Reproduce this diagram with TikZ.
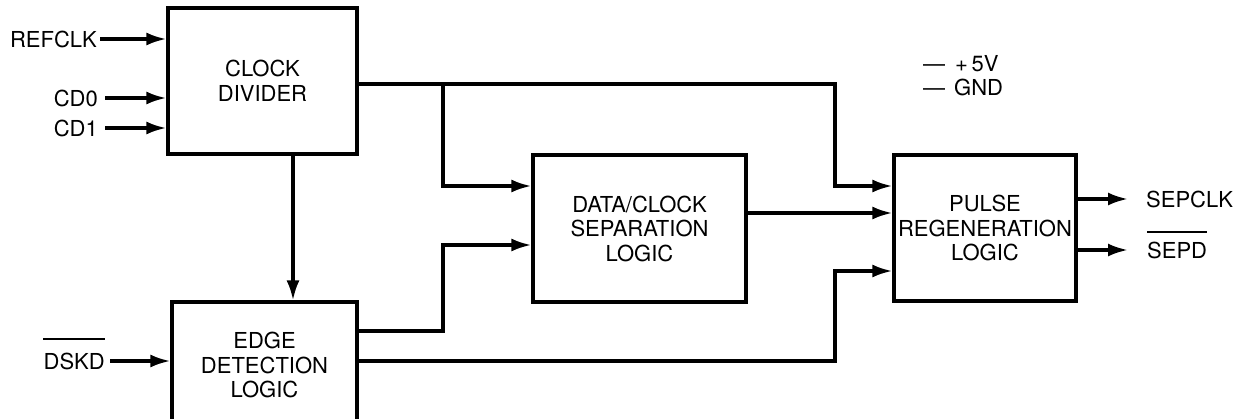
\documentclass[tikz,border=0pt]{standalone}
\usepackage{fontspec}
\setmainfont{TeX Gyre Heros}
\usetikzlibrary{arrows.meta,calc}
\begin{document}
\begin{tikzpicture}[x=1pt,y=-1pt,
  font=\fontsize{22}{24.5}\selectfont,
  blk/.style={draw, line width=3.2pt, inner sep=0pt, align=center},
  sig/.style={line width=3.2pt},
  arr/.style={sig, -{Latex[length=20pt,width=13pt]}},
  lbl/.style={inner sep=0pt},
  bar/.style={line width=2pt}]
\useasboundingbox (0,0) rectangle (1240,418);
\clip (0,0) rectangle (1240,418);
% blocks
\node[blk, minimum width=189pt, minimum height=146pt] (clk) at (262.5,81) {CLOCK\\DIVIDER};
\node[blk, minimum width=185pt, minimum height=126pt] (edge) at (264.5,365) {EDGE\\DETECTION\\LOGIC};
\node[blk, minimum width=213pt, minimum height=147pt] (sep) at (639.5,228.5) {DATA/CLOCK\\SEPARATION\\LOGIC};
\node[blk, minimum width=182pt, minimum height=146pt] (pulse) at (985,228) {PULSE\\REGENERATION\\LOGIC};
% junction coordinates
\coordinate (j1) at (443,84);
\coordinate (j2) at (835,84);
\coordinate (ya) at (0,186);
\coordinate (ym) at (0,213);
\coordinate (yb) at (0,245);
\coordinate (yc) at (0,271);
\coordinate (yb1) at (0,331);
\coordinate (yc1) at (0,361);
\coordinate (xv) at (293,0);
% inputs
\node[lbl, anchor=east] (refclk) at (97,39) {REFCLK};
\node[lbl, anchor=east] (cd0) at (98,98) {CD0};
\node[lbl, anchor=east] (cd1) at (98,128) {CD1};
\node[lbl, anchor=east] (dskd) at (105,361) {DSKD};
\draw[bar] ([yshift=13pt]dskd.north west) -- ([yshift=13pt]dskd.north east);
\draw[arr] ([xshift=3pt]refclk.east) -- (refclk.east -| clk.west);
\draw[arr] ([xshift=7pt]cd0.east) -- (cd0.east -| clk.west);
\draw[arr] ([xshift=7pt]cd1.east) -- (cd1.east -| clk.west);
\draw[arr] ([xshift=5pt]dskd.east) -- (dskd.east -| edge.west);
% internal connections
\draw[arr] (xv |- clk.south) -- (xv |- edge.north);
\draw[arr] (clk.east |- j1) -- (j2) -- (j2 |- ya) -- (pulse.west |- ya);
\draw[arr] (j1) -- (j1 |- ya) -- (sep.west |- ya);
\draw[arr] (edge.east |- yb1) -- (j1 |- yb1) -- (j1 |- yb) -- (sep.west |- yb);
\draw[arr] (edge.east |- yc1) -- (j2 |- yc1) -- (j2 |- yc) -- (pulse.west |- yc);
\draw[arr] (sep.east |- ym) -- (pulse.west |- ym);
% outputs
\node[lbl, anchor=west] (sepclk) at (1146,199) {SEPCLK};
\node[lbl, anchor=west] (sepd) at (1147,250) {SEPD};
\draw[bar] ([yshift=9pt]sepd.north west) -- ([yshift=9pt]sepd.north east);
\draw[arr] (pulse.east |- sepclk) -- ([xshift=-18pt]sepclk.west);
\draw[arr] (pulse.east |- sepd) -- ([xshift=-19pt]sepd.west);
% supply pins
\node[lbl, anchor=west] (vcc) at (923,64) {\textemdash\hspace{10pt}+\,5V};
\node[lbl, anchor=west] (gnd) at (923,87) {\textemdash\hspace{9pt}GND};
\end{tikzpicture}
\end{document}
